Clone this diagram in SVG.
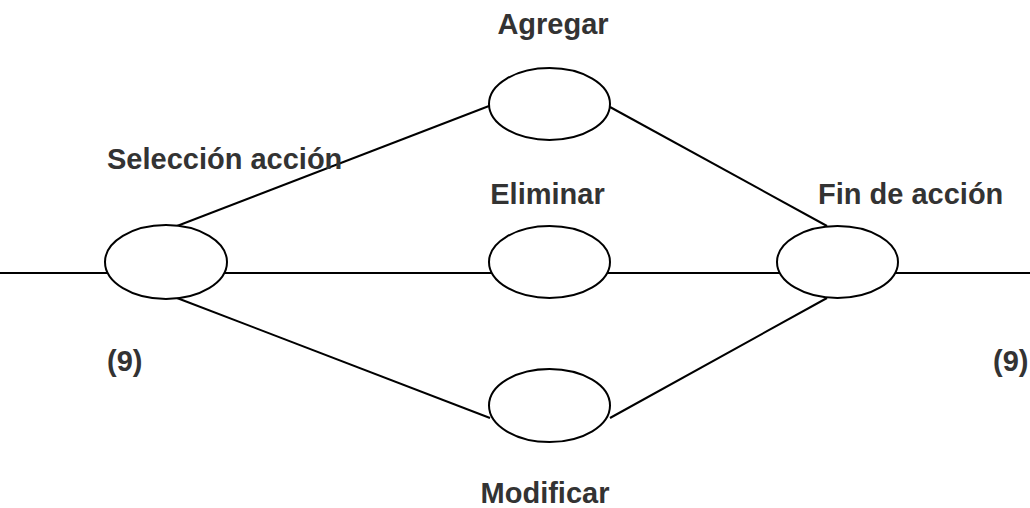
<svg xmlns="http://www.w3.org/2000/svg" width="1030" height="508" viewBox="0 0 1030 508">
  <style>
    .edge { stroke: #000; stroke-width: 2; fill: none; }
    .node { stroke: #000; stroke-width: 2; fill: #fff; }
    .lbl { font-family: "Liberation Sans", Arial, sans-serif; font-weight: bold; font-size: 29px; fill: #333; }
  </style>
  <rect width="1030" height="508" fill="#fff"/>
  <g id="connectors">
    <line class="edge" x1="0" y1="273" x2="108" y2="273"/>
    <line class="edge" x1="224" y1="273" x2="492" y2="273"/>
    <line class="edge" x1="607" y1="273" x2="780" y2="273"/>
    <line class="edge" x1="895" y1="273" x2="1030" y2="273"/>
    <line class="edge" x1="177" y1="226" x2="489" y2="106"/>
    <line class="edge" x1="177" y1="298" x2="490" y2="418"/>
    <line class="edge" x1="610" y1="107" x2="827" y2="226"/>
    <line class="edge" x1="610" y1="418" x2="827" y2="298"/>
  </g>
  <g id="seleccion">
    <ellipse class="node" cx="166" cy="262" rx="61" ry="37"/>
    <text class="lbl" x="107" y="169">Selección acción</text>
    <text class="lbl" x="107" y="371">(9)</text>
  </g>
  <g id="agregar">
    <ellipse class="node" cx="549.5" cy="104" rx="60.5" ry="36"/>
    <text class="lbl" x="553" y="34" text-anchor="middle">Agregar</text>
  </g>
  <g id="eliminar">
    <ellipse class="node" cx="549.5" cy="262" rx="60.5" ry="36"/>
    <text class="lbl" x="547.5" y="204" text-anchor="middle">Eliminar</text>
  </g>
  <g id="modificar">
    <ellipse class="node" cx="549.5" cy="405.5" rx="60.5" ry="36.5"/>
    <text class="lbl" x="545" y="503" text-anchor="middle">Modificar</text>
  </g>
  <g id="fin">
    <ellipse class="node" cx="837.5" cy="262" rx="60.5" ry="36"/>
    <text class="lbl" x="818" y="204">Fin de acción</text>
    <text class="lbl" x="993" y="371">(9)</text>
  </g>
</svg>
